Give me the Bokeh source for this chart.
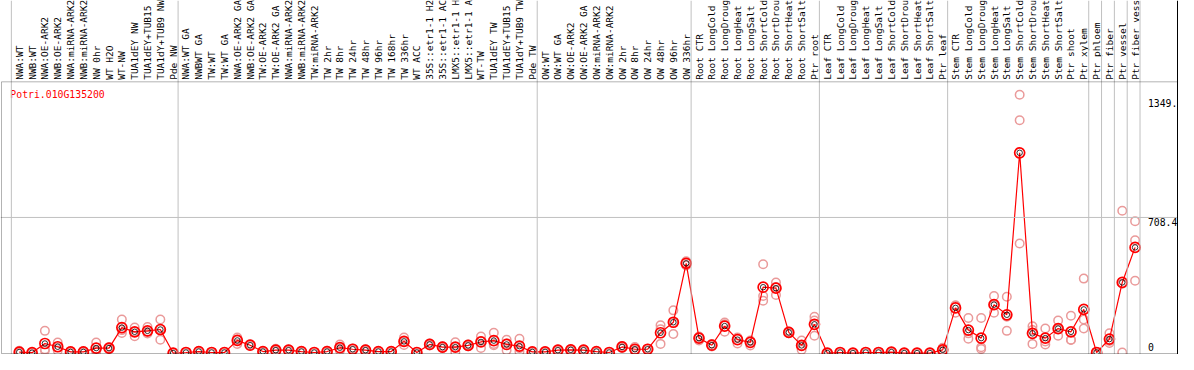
import math
from bokeh.plotting import figure
from bokeh.models import Range1d, Span, BoxAnnotation, ColumnDataSource
from bokeh.embed import file_html
from bokeh.resources import INLINE
from bokeh.core.properties import value

gene = "Potri.010G135200"

samples = [
    "NWA:WT", "NWB:WT", "NWA:OE-ARK2", "NWB:OE-ARK2", "NWA:miRNA-ARK2", "NWB:miRNA-ARK2",
    "NW 0hr", "WT H2O", "WT-NW", "TUA1dEY NW", "TUA1dEY+TUB15 NW", "TUA1dY+TUB9 NW", "Pde NW",
    "NWA:WT GA", "NWBWT GA", "TW:WT", "TW:WT GA", "NWA:OE-ARK2 GA", "NWB:OE-ARK2 GA",
    "TW:OE-ARK2", "TW:OE-ARK2 GA", "NWA:miRNA-ARK2", "NWB:miRNA-ARK2", "TW:miRNA-ARK2",
    "TW 2hr", "TW 8hr", "TW 24hr", "TW 48hr", "TW 96hr", "TW 168hr", "TW 336hr", "WT ACC",
    "35S::etr1-1 H2O", "35S::etr1-1 ACC", "LMX5::etr1-1 H2O", "LMX5::etr1-1 ACC", "WT-TW",
    "TUA1dEY TW", "TUA1dEY+TUB15 TW", "TUA1dY+TUB9 TW", "Pde TW",
    "OW:WT", "OW:WT GA", "OW:OE-ARK2", "OW:OE-ARK2 GA", "OW:miRNA-ARK2", "OW:miRNA-ARK2",
    "OW 2hr", "OW 8hr", "OW 24hr", "OW 48hr", "OW 96hr", "OW 336hr",
    "Root CTR", "Root LongCold", "Root LongDrought", "Root LongHeat", "Root LongSalt",
    "Root ShortCold", "Root ShortDrought", "Root ShortHeat", "Root ShortSalt", "Ptr root",
    "Leaf CTR", "Leaf LongCold", "Leaf LongDrought", "Leaf LongHeat", "Leaf LongSalt",
    "Leaf ShortCold", "Leaf ShortDrought", "Leaf ShortHeat", "Leaf ShortSalt", "Ptr leaf",
    "Stem CTR", "Stem LongCold", "Stem LongDrought", "Stem LongHeat", "Stem LongSalt",
    "Stem ShortCold", "Stem ShortDrought", "Stem ShortHeat", "Stem ShortSalt", "Ptr shoot",
    "Ptr xylem", "Ptr phloem", "Ptr fiber", "Ptr vessel", "Ptr fiber vessel",
]

means = [
    5, 2, 50, 33, 6, 6, 26, 26, 133, 111, 116, 123, 0,
    3, 8, 3, 3, 66, 41, 8, 15, 15, 8, 3, 8, 28, 20, 15, 8, 8, 61, 3,
    45, 31, 31, 40, 58, 65, 45, 36, 6,
    6, 15, 17, 15, 8, 3, 32, 20, 20, 106, 161, 469,
    78, 41, 141, 70, 56, 344, 339, 108, 40, 150,
    0, 3, 0, 3, 3, 5, 0, 0, 0, 17,
    236, 120, 78, 253, 200, 1046, 103, 78, 128, 111, 228,
    3, 73, 369, 552,
]

rep1 = [
    12, 3, 116, 55, 10, 9, 55, 30, 175, 133, 136, 175, 1,
    5, 10, 4, 4, 81, 45, 10, 22, 18, 10, 4, 12, 45, 24, 20, 10, 10, 81, 4,
    50, 36, 56, 45, 86, 106, 70, 75, 8,
    8, 18, 20, 18, 10, 4, 37, 32, 22, 145, 223, 480,
    86, 48, 160, 81, 65, 464, 369, 112, 65, 190,
    1, 4, 1, 4, 4, 7, 1, 1, 1, 28,
    248, 183, 183, 298, 294, 1349.3, 140, 128, 170, 195, 389,
    5, 103, 743, 689,
]
rep2 = [
    3, 2, 20, 30, 5, 6, 15, 25, 120, 111, 110, 125, 0,
    3, 8, 3, 3, 70, 41, 8, 14, 15, 8, 3, 8, 25, 20, 15, 8, 8, 60, 3,
    45, 31, 32, 40, 62, 48, 50, 25, 6,
    6, 15, 17, 15, 8, 3, 32, 18, 20, 125, 160, 470,
    80, 41, 150, 79, 62, 298, 345, 108, 38, 170,
    0, 3, 0, 3, 3, 5, 0, 0, 0, 15,
    248, 103, 30, 250, 190, 1216, 120, 60, 125, 70, 175,
    3, 63, 362, 589,
]
rep3 = [
    1, 1, 14, 14, 3, 3, 8, 23, 105, 88, 102, 70, 0,
    1, 6, 2, 2, 48, 38, 6, 9, 12, 6, 2, 4, 14, 16, 10, 6, 6, 42, 2,
    40, 26, 5, 35, 26, 41, 15, 8, 4,
    4, 12, 14, 12, 6, 2, 27, 10, 18, 48, 100, 457,
    66, 34, 111, 50, 40, 273, 303, 104, 17, 90,
    0, 2, 0, 2, 2, 3, 0, 0, 0, 8,
    211, 75, 21, 211, 116, 572, 48, 45, 90, 68, 128,
    1, 53, 3, 378,
]

group_ends = [-1, 12, 40, 52, 62, 72, 83, 84, 85, 86, 87]
ytick_values = [0, 708.4, 1349.3]
ytick_labels = ["0", "708.4", "1349."]
YMAX = 1416.8

# ---- geometry (reference is 1194 x 370; page has an 8px margin) ----
W, H = 1178, 354
sx, sy = W / 1194.0, H / 370.0
u = YMAX / 283.5                      # data units per reference pixel (vertical)
x0 = -19 / 13.0
x1 = (1194 - 19) / 13.0
y0 = -(370 - 368.5) * u
y1 = 368.5 * u

p = figure(width=W, height=H, output_backend="svg", toolbar_location=None,
           x_range=Range1d(x0, x1), y_range=Range1d(y0, y1),
           x_axis_type=None, y_axis_type=None, min_border=0)
p.min_border_left = p.min_border_right = p.min_border_top = p.min_border_bottom = 0
p.outline_line_color = None
p.background_fill_color = "white"
p.border_fill_color = "white"

grey = "#c0c0c0"
# group separators (full height)
for g in group_ends:
    p.add_layout(Span(location=g + 5 / 13.0, dimension="height",
                      line_color=grey, line_width=1))
# mid gridline
p.add_layout(Span(location=ytick_values[1], dimension="width",
                  line_color=grey, line_width=1))

# black frame around plot area
p.add_layout(BoxAnnotation(left=(1 - 19) / 13.0, right=(1193 - 19) / 13.0,
                           bottom=-0.5 * u, top=YMAX,
                           fill_alpha=0, fill_color=None,
                           line_color="black", line_width=1))
p.add_layout(Span(location=(1193 - 19) / 13.0, dimension="height",
                  line_color="black", line_width=1))

idx = list(range(len(samples)))

# replicates
rx, ry = [], []
for arr in (rep1, rep2, rep3):
    rx.extend(idx)
    ry.extend(arr)
rep_src = ColumnDataSource(dict(x=rx, y=ry))
p.scatter("x", "y", source=rep_src, marker="circle", size=8.5,
          fill_color=None, line_color="#ea9a9a", line_width=1.5)

# means
msrc = ColumnDataSource(dict(x=idx, y=means))
p.line("x", "y", source=msrc, line_color="red", line_width=1.2)
p.scatter("x", "y", source=msrc, marker="circle", size=10,
          fill_color=None, line_color="red", line_width=1.7)
p.scatter("x", "y", source=msrc, marker="circle", size=5.5,
          fill_color=None, line_color="black", line_width=0.8)

mono = value("DejaVu Sans Mono")

# sample labels (rotated, above plot box)
p.text(x=idx, y=[YMAX] * len(idx), text=samples, angle=math.pi / 2,
       text_align="left", text_baseline="middle", y_offset=-2,
       text_font=mono, text_font_size="9.5px", text_color="black")

# gene name
p.text(x=[(10 - 19) / 13.0], y=[(368.5 - 92) * u], text=[gene],
       text_align="left", text_baseline="top",
       text_font=mono, text_font_size="9.8px", text_color="red")

# y tick labels on the right
p.text(x=[(1163 - 19) / 13.0] * 3, y=ytick_values, text=ytick_labels,
       text_align="left", text_baseline="middle",
       y_offset=[-6 * sy, 4.5 * sy, 8.5 * sy],
       text_font=mono, text_font_size="9.8px", text_color="black")

open("out.html", "w").write(file_html(p, INLINE))
